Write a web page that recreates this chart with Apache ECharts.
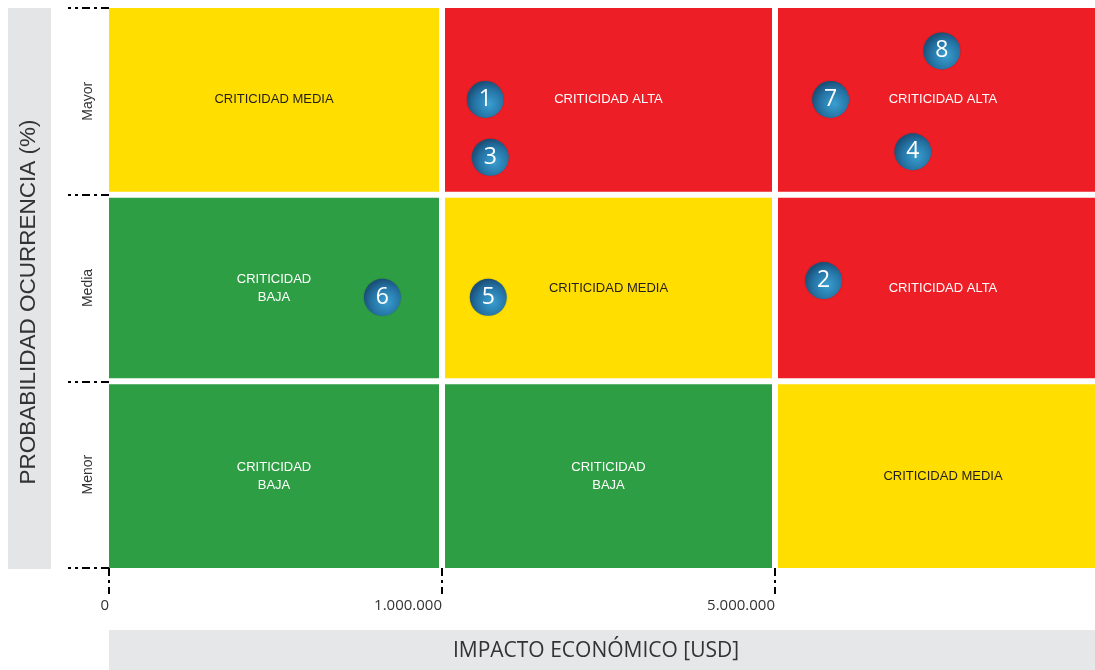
<!DOCTYPE html>
<html>
<head>
<meta charset="utf-8">
<script src="https://cdn.jsdelivr.net/npm/echarts@6/dist/echarts.min.js"></script>
<style>
  html, body { margin: 0; padding: 0; background: #fff; }
  #chart { width: 1095px; height: 670px; }
</style>
</head>
<body>
<div id="chart"></div>
<script>
// probability levels, bottom to top
const probLevels = ['Menor', 'Media', 'Mayor']
// impact tick labels at column boundaries
const impactTicks = ['0', '1.000.000', '5.000.000']
// criticity per cell, rows bottom to top, columns left to right
const criticity = [
  ['BAJA', 'BAJA', 'MEDIA'],
  ['BAJA', 'MEDIA', 'ALTA'],
  ['MEDIA', 'ALTA', 'ALTA']
]
// risks placed in the matrix (column units / row units)
const riskIds = ['1', '2', '3', '4', '5', '6', '7', '8']
const riskImpact = [1.13, 2.146, 1.145, 2.414, 1.139, 0.821, 2.167, 2.501]
const riskProb = [2.51, 1.54, 2.2, 2.23, 1.45, 1.45, 2.51, 2.77]

const levelColor = { BAJA: '#2e9e44', MEDIA: '#ffde00', ALTA: '#ed1e26' }
const levelText = { BAJA: '#ffffff', MEDIA: '#231f20', ALTA: '#ffffff' }

const cells = []
criticity.forEach((row, r) => {
  row.forEach((lvl, c) => {
    cells.push([c, r, lvl])
  })
})

const chart = echarts.init(document.getElementById('chart'))

const gap = 3
const cellFont = '13px "Liberation Sans", Arial, sans-serif'

chart.setOption({
  animation: false,
  // the last column runs past the right edge of the picture
  grid: { left: 109, right: -13, top: 8, bottom: 102, outerBoundsMode: 'none' },
  xAxis: {
    type: 'value',
    min: 0,
    max: 3,
    interval: 1,
    axisLine: { show: false },
    splitLine: { show: false },
    axisTick: {
      show: true,
      length: 26,
      customValues: [0, 1, 2],
      lineStyle: { color: '#000', width: 2, type: [8, 4, 3, 4] }
    },
    axisLabel: {
      customValues: [0, 1, 2],
      formatter: v => impactTicks[Math.round(v)] || '',
      align: 'right',
      margin: 30,
      color: '#333',
      fontSize: 15,
      fontFamily: 'Open Sans'
    }
  },
  yAxis: {
    type: 'value',
    min: 0,
    max: 3,
    interval: 1,
    axisLine: { show: false },
    splitLine: { show: false },
    axisTick: {
      show: true,
      length: 41,
      customValues: [0, 1, 2, 3],
      lineStyle: { color: '#000', width: 2, type: [8, 4, 3, 4] }
    },
    axisLabel: {
      customValues: [0.5, 1.5, 2.5],
      formatter: v => probLevels[Math.floor(v)] || '',
      rotate: 90,
      margin: 14,
      color: '#333',
      fontSize: 14,
      fontFamily: 'Liberation Sans'
    }
  },
  graphic: [
    {
      type: 'rect',
      shape: { x: 8, y: 8, width: 43, height: 561 },
      style: { fill: '#e4e5e6' },
      silent: true
    },
    {
      type: 'text',
      x: 29,
      y: 302,
      rotation: Math.PI / 2,
      style: {
        text: 'PROBABILIDAD OCURRENCIA (%)',
        align: 'center',
        verticalAlign: 'middle',
        fill: '#333',
        font: '22.5px "Liberation Sans", Arial, sans-serif'
      }
    },
    {
      type: 'rect',
      shape: { x: 109, y: 630, width: 986, height: 40 },
      style: { fill: '#e6e7e8' },
      silent: true
    },
    {
      type: 'text',
      x: 596,
      y: 651,
      style: {
        text: 'IMPACTO ECONÓMICO [USD]',
        align: 'center',
        verticalAlign: 'middle',
        fill: '#333',
        font: '21px "Open Sans", sans-serif'
      }
    }
  ],
  series: [
    {
      type: 'custom',
      data: cells,
      z: 1,
      renderItem: (params, api) => {
        const c = api.value(0)
        const r = api.value(1)
        const lvl = cells[params.dataIndex][2]
        const p0 = api.coord([c, r + 1])
        const p1 = api.coord([c + 1, r])
        const x0 = p0[0] + (c > 0 ? gap : 0)
        const x1 = p1[0] - (c < 2 ? gap : 0)
        const y0 = p0[1] + (r < 2 ? gap : 0)
        const y1 = p1[1] - (r > 0 ? gap : 0)
        const label = lvl === 'BAJA' ? 'CRITICIDAD\nBAJA' : 'CRITICIDAD ' + lvl
        return {
          type: 'group',
          children: [
            {
              type: 'rect',
              shape: { x: x0, y: y0, width: x1 - x0, height: y1 - y0 },
              style: { fill: levelColor[lvl] }
            },
            {
              type: 'text',
              style: {
                text: label,
                x: (x0 + x1) / 2,
                y: (y0 + y1) / 2,
                align: 'center',
                verticalAlign: 'middle',
                lineHeight: 18,
                fill: levelText[lvl],
                font: cellFont
              }
            }
          ]
        }
      }
    },
    {
      type: 'scatter',
      z: 5,
      symbol: 'circle',
      symbolSize: 37,
      data: riskIds.map((id, i) => [riskImpact[i], riskProb[i], id]),
      itemStyle: {
        opacity: 1,
        color: {
          type: 'radial',
          x: 0.6,
          y: 0.62,
          r: 0.62,
          colorStops: [
            { offset: 0, color: '#3a9fd2' },
            { offset: 0.65, color: '#2472a3' },
            { offset: 1, color: '#1a4f77' }
          ]
        },
        shadowColor: 'rgba(0,0,0,0.2)',
        shadowBlur: 2
      },
      label: {
        show: true,
        position: 'inside',
        formatter: p => p.data[2],
        color: '#fff',
        textBorderWidth: 0,
        textShadowBlur: 0,
        fontSize: 23,
        fontFamily: 'Open Sans'
      }
    }
  ]
})
</script>
</body>
</html>
